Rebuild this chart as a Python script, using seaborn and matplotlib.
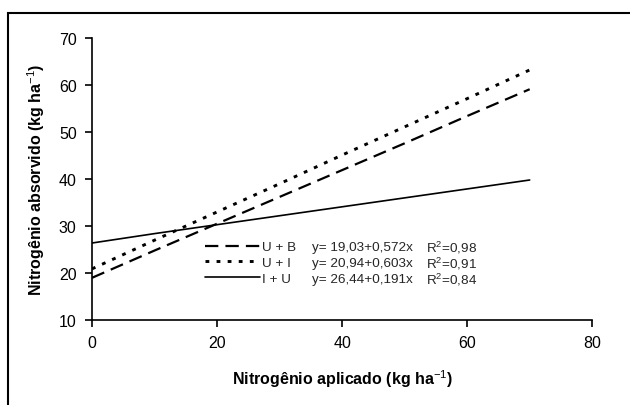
import numpy as np
import pandas as pd
import matplotlib
matplotlib.use("Agg")
import matplotlib.pyplot as plt
import matplotlib.patches as mpatches
import seaborn as sns

# valores (N aplicado x N absorvido)
doses = [0, 10, 20, 30, 40, 50, 60, 70]
ub = [19.0, 24.8, 30.5, 36.2, 41.9, 47.6, 53.4, 59.1]
ui = [20.9, 27.0, 33.0, 39.0, 45.1, 51.1, 57.1, 63.2]
iu = [26.4, 28.4, 30.3, 32.2, 34.1, 36.0, 37.9, 39.8]

tratamentos = ["U + B", "U + I", "I + U"]
equacoes = ["y= 19,03+0,572x", "y= 20,94+0,603x", "y= 26,44+0,191x"]
r2 = ["R$^2$=0,98", "R$^2$=0,91", "R$^2$=0,84"]

df = pd.DataFrame({
    "dose": doses * 3,
    "absorvido": ub + ui + iu,
    "trat": np.repeat(tratamentos, len(doses)),
})

sns.set_theme(style="ticks")
plt.rcParams["font.family"] = ["Liberation Sans", "DejaVu Sans"]
plt.rcParams["mathtext.fontset"] = "custom"
plt.rcParams["mathtext.rm"] = "Liberation Sans"
plt.rcParams["mathtext.bf"] = "Liberation Sans:bold"

estilos = {
    "U + B": dict(lw=1.6, dashes=(6.0, 3.2)),
    "U + I": dict(lw=2.1, dashes=(1.3, 2.5)),
    "I + U": dict(lw=1.2, dashes=None),
}

fig = plt.figure(figsize=(6.3, 4.06), dpi=100)
ax = fig.add_axes([0.146, 0.209, 0.794, 0.695])

for t in tratamentos:
    sub = df[df["trat"] == t]
    st = estilos[t]
    kw = {} if st["dashes"] is None else {"dashes": st["dashes"]}
    sns.lineplot(data=sub, x="dose", y="absorvido", ax=ax, color="black",
                 lw=st["lw"], label=t, **kw)

ax.set_xlim(0, 80)
ax.set_ylim(10, 70)
ax.set_xticks(range(0, 81, 20))
ax.set_yticks(range(10, 71, 10))
sns.despine(ax=ax)
for s in ["left", "bottom"]:
    ax.spines[s].set_color("black")
    ax.spines[s].set_linewidth(1.2)
ax.tick_params(direction="out", length=5, width=1.2, color="black",
               labelsize=11.5, labelcolor="black", pad=6)

ax.set_xlabel("Nitrogênio aplicado (kg ha$^{-1}$)", fontsize=11.5,
              fontweight="bold", color="black", labelpad=12)
ax.set_ylabel("Nitrogênio absorvido (kg ha$^{-1}$)", fontsize=11.5,
              fontweight="bold", color="black")
ax.yaxis.set_label_coords(-0.09, 0.5)

leg = ax.legend(loc="upper left", bbox_to_anchor=(0.215, 0.30), frameon=False,
                fontsize=9.7, handlelength=4.1, handletextpad=0.15,
                labelspacing=0.25, borderaxespad=0)

# equacoes alinhadas com as linhas da legenda
fig.canvas.draw()
inv = ax.transAxes.inverted()
for txt, eq, r in zip(leg.get_texts(), equacoes, r2):
    bb = txt.get_window_extent()
    yc = inv.transform((0, (bb.y0 + bb.y1) / 2))[1]
    ax.text(0.44, yc, eq, transform=ax.transAxes, fontsize=9.7, va="center")
    ax.text(0.668, yc, r, transform=ax.transAxes, fontsize=9.7, va="center")

# moldura externa
fig.patches.append(mpatches.Rectangle((8 / 630, -0.2), 1.2, 0.2 + 1 - 14 / 406,
                                      transform=fig.transFigure, fill=False,
                                      lw=1.5, ec="black"))

fig.savefig("out.png", dpi=100)
